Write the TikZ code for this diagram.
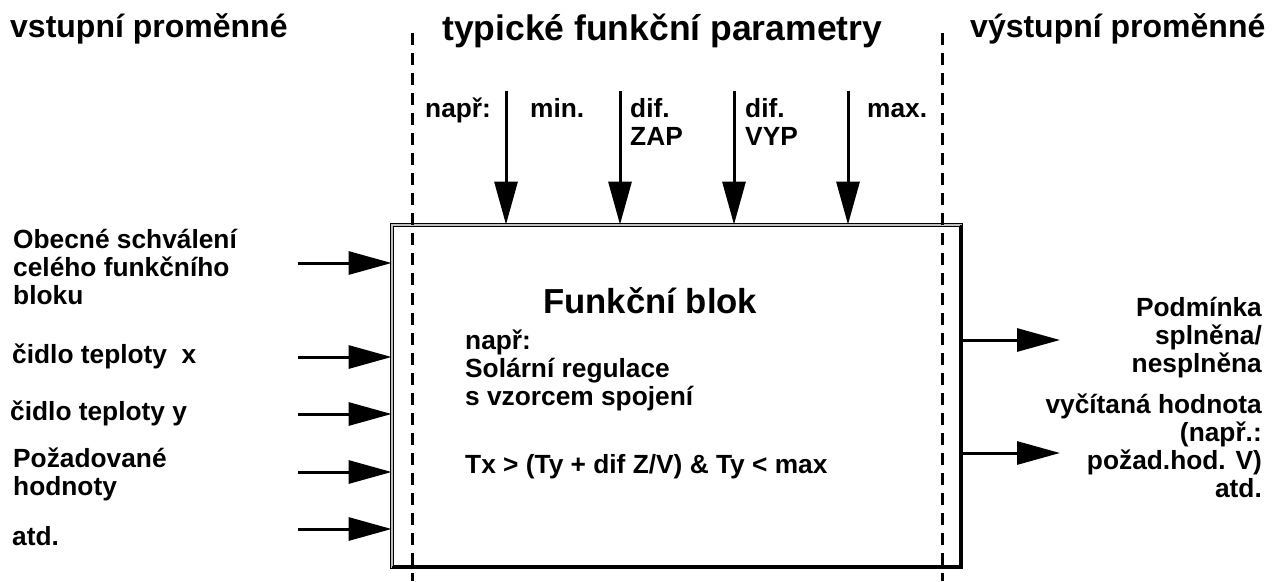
\documentclass[tikz,border=0pt]{standalone}
\usepackage{fontspec}
\setmainfont{Liberation Sans}
\usetikzlibrary{positioning,arrows.meta}

\begin{document}
\begin{tikzpicture}[x=1pt,y=-1pt,
		txt/.style={inner sep=0pt, font=\fontsize{26.3}{28}\selectfont\bfseries, align=left},
		kopf/.style={inner sep=0pt, font=\fontsize{32}{34}\selectfont\bfseries},
		pfeil/.style={line width=3pt, -{Triangle[length=43pt,width=23pt]}},
		trenn/.style={line width=3pt, dash pattern=on 12pt off 8pt}]
	\useasboundingbox (0,0) rectangle (1277,581);

	% Ueberschriften
	\node[kopf, anchor=base west] (vstup) at (10,37) {vstupní proměnné};
	\node[kopf, font=\fontsize{35.5}{36}\selectfont\bfseries, anchor=base west] (param) at (442,40) {typické funkční parametry};
	\node[kopf, anchor=base west] (vystup) at (970,37) {výstupní proměnné};

	% Funkcni blok
	\node[draw, double=gray!50, double distance=1.5pt, line width=0.8pt, fill=white,
		minimum width=569pt, minimum height=342pt, inner sep=0pt] (blok) at (676.5,396) {};
	\draw[line width=3pt] (blok.north east)--(blok.south east)--(blok.south west);
	\node[txt, font=\fontsize{34.7}{36}\selectfont\bfseries, anchor=base west] (titel) at (543,313) {Funkční blok};
	\node[txt, anchor=base west] (bsp) at (465,405) {např:\\Solární regulace\\s vzorcem spojení};
	\node[txt, anchor=base west] (formel) at (465,473) {Tx > (Ty + dif Z/V) \& Ty < max};

	% Trennlinien
	\coordinate (t1o) at (412,33);
	\coordinate (t1u) at (412,581);
	\coordinate (t2o) at (942,33);
	\coordinate (t2u) at (942,581);
	\draw[trenn] (t1o)--(t1u);
	\draw[trenn] (t2o)--(t2u);

	% Parameter
	\node[txt, anchor=base west] (napr) at (425,117) {např:};
	\node[txt, anchor=base west] (lmin) at (530,117) {min.};
	\node[txt, anchor=base west] (lzap) at (630,145) {dif.\\ZAP};
	\node[txt, anchor=base west] (lvyp) at (745,145) {dif.\\VYP};
	\node[txt, anchor=base west] (lmax) at (867,117) {max.};
	\coordinate (pmin) at (506,91);
	\coordinate (pzap) at (620,91);
	\coordinate (pvyp) at (734,91);
	\coordinate (pmax) at (848,91);
	\draw[pfeil] (pmin)--(pmin |- blok.north);
	\draw[pfeil] (pzap)--(pzap |- blok.north);
	\draw[pfeil] (pvyp)--(pvyp |- blok.north);
	\draw[pfeil] (pmax)--(pmax |- blok.north);

	% Eingaenge
	\node[txt, anchor=base west] (e1) at (13,304) {Obecné schválení\\celého funkčního\\bloku};
	\node[txt, anchor=base west] (e2) at (12,363) {čidlo teploty~ x};
	\node[txt, anchor=base west] (e3) at (10,420) {čidlo teploty y};
	\node[txt, anchor=base west] (e4) at (13,495) {Požadované\\hodnoty};
	\node[txt, anchor=base west] (e5) at (12,545) {atd.};
	\coordinate (in1) at (298,263);
	\coordinate (in2) at (298,357);
	\coordinate (in3) at (298,414);
	\coordinate (in4) at (298,472);
	\coordinate (in5) at (298,529);
	\draw[pfeil] (in1)--(in1 -| blok.west);
	\draw[pfeil] (in2)--(in2 -| blok.west);
	\draw[pfeil] (in3)--(in3 -| blok.west);
	\draw[pfeil] (in4)--(in4 -| blok.west);
	\draw[pfeil] (in5)--(in5 -| blok.west);

	% Ausgaenge
	\coordinate (out1) at (1060,340);
	\coordinate (out2) at (1060,453);
	\draw[pfeil] (out1 -| blok.east)--(out1);
	\draw[pfeil] (out2 -| blok.east)--(out2);
	\node[txt, align=right, anchor=base east] (a1) at (1262,372) {Podmínka\\splněna/\\nesplněna};
	\node[txt, align=right, anchor=base east] (a2) at (1262,497) {vyčítaná hodnota\\(např.:\\požad.hod. V)\\atd.};
\end{tikzpicture}
\end{document}
